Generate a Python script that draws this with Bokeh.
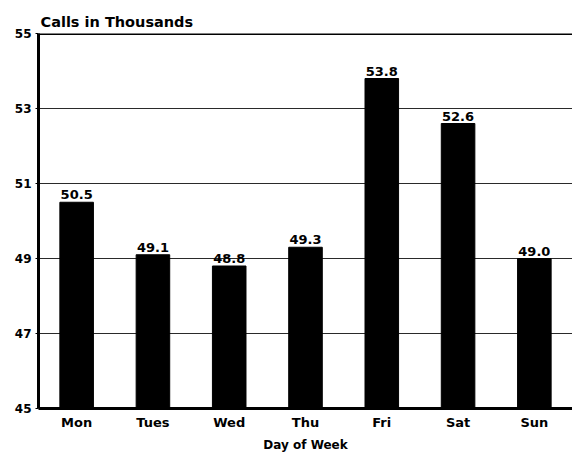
from bokeh.plotting import figure
from bokeh.models import Range1d, FactorRange, FixedTicker, Span, ColumnDataSource, Title
from bokeh.core.properties import value
from bokeh.embed import file_html
from bokeh.resources import INLINE

days = ["Mon", "Tues", "Wed", "Thu", "Fri", "Sat", "Sun"]
calls = [50.5, 49.1, 48.8, 49.3, 53.8, 52.6, 49.0]
labels = ["50.5", "49.1", "48.8", "49.3", "53.8", "52.6", "49.0"]
y_ticks = [45, 47, 49, 51, 53, 55]
grid_ticks = [47, 49, 51, 53]
y_min, y_max = 45, 55

FONT = "DejaVu Sans"

src = ColumnDataSource(dict(day=days, calls=calls, label=labels, base=[y_min] * len(days)))

p = figure(width=572, height=454, x_range=FactorRange(factors=days),
           y_range=Range1d(y_min, y_max), output_backend="svg",
           toolbar_location=None, min_border_left=38, min_border_right=0,
           min_border_top=33, min_border_bottom=45)
p.background_fill_color = "white"
p.border_fill_color = "white"
p.outline_line_color = None

p.title = Title(text="Calls in Thousands", align="left", offset=2,
                text_font=FONT, text_font_size="14.5px", text_font_style="bold",
                text_color="black", standoff=7)

p.vbar(x="day", top="calls", bottom="base", width=0.44, source=src,
       fill_color="black", line_color="black")
p.text(x="day", y="calls", text="label", source=src, text_align="center",
       text_baseline="bottom", y_offset=-3, text_font=value(FONT),
       text_font_size="13px", text_font_style="bold", text_color="black")

p.xgrid.grid_line_color = None
p.ygrid.ticker = FixedTicker(ticks=grid_ticks)
p.ygrid.grid_line_color = "#2a2a2a"
p.ygrid.grid_line_width = 1

p.add_layout(Span(location=y_max, dimension="width", line_color="black", line_width=3))

p.yaxis.ticker = FixedTicker(ticks=y_ticks)
p.yaxis.axis_line_width = 3
p.yaxis.axis_line_color = "black"
p.yaxis.major_tick_out = 3
p.yaxis.major_tick_in = 0
p.yaxis.major_tick_line_color = "black"
p.yaxis.minor_tick_line_color = None
p.yaxis.major_label_standoff = 4
p.yaxis.major_label_text_font = FONT
p.yaxis.major_label_text_font_size = "12px"
p.yaxis.major_label_text_font_style = "bold"
p.yaxis.major_label_text_color = "black"

p.xaxis.axis_line_width = 3
p.xaxis.axis_line_color = "black"
p.xaxis.major_tick_line_color = None
p.xaxis.minor_tick_line_color = None
p.xaxis.major_tick_out = 0
p.xaxis.major_label_standoff = 6
p.xaxis.major_label_text_font = FONT
p.xaxis.major_label_text_font_size = "13px"
p.xaxis.major_label_text_font_style = "bold"
p.xaxis.major_label_text_color = "black"
p.xaxis.axis_label = "Day of Week"
p.xaxis.axis_label_text_font = FONT
p.xaxis.axis_label_text_font_size = "12px"
p.xaxis.axis_label_text_font_style = "bold"
p.xaxis.axis_label_text_color = "black"
p.xaxis.axis_label_standoff = 5

open("out.html", "w").write(file_html(p, INLINE))
